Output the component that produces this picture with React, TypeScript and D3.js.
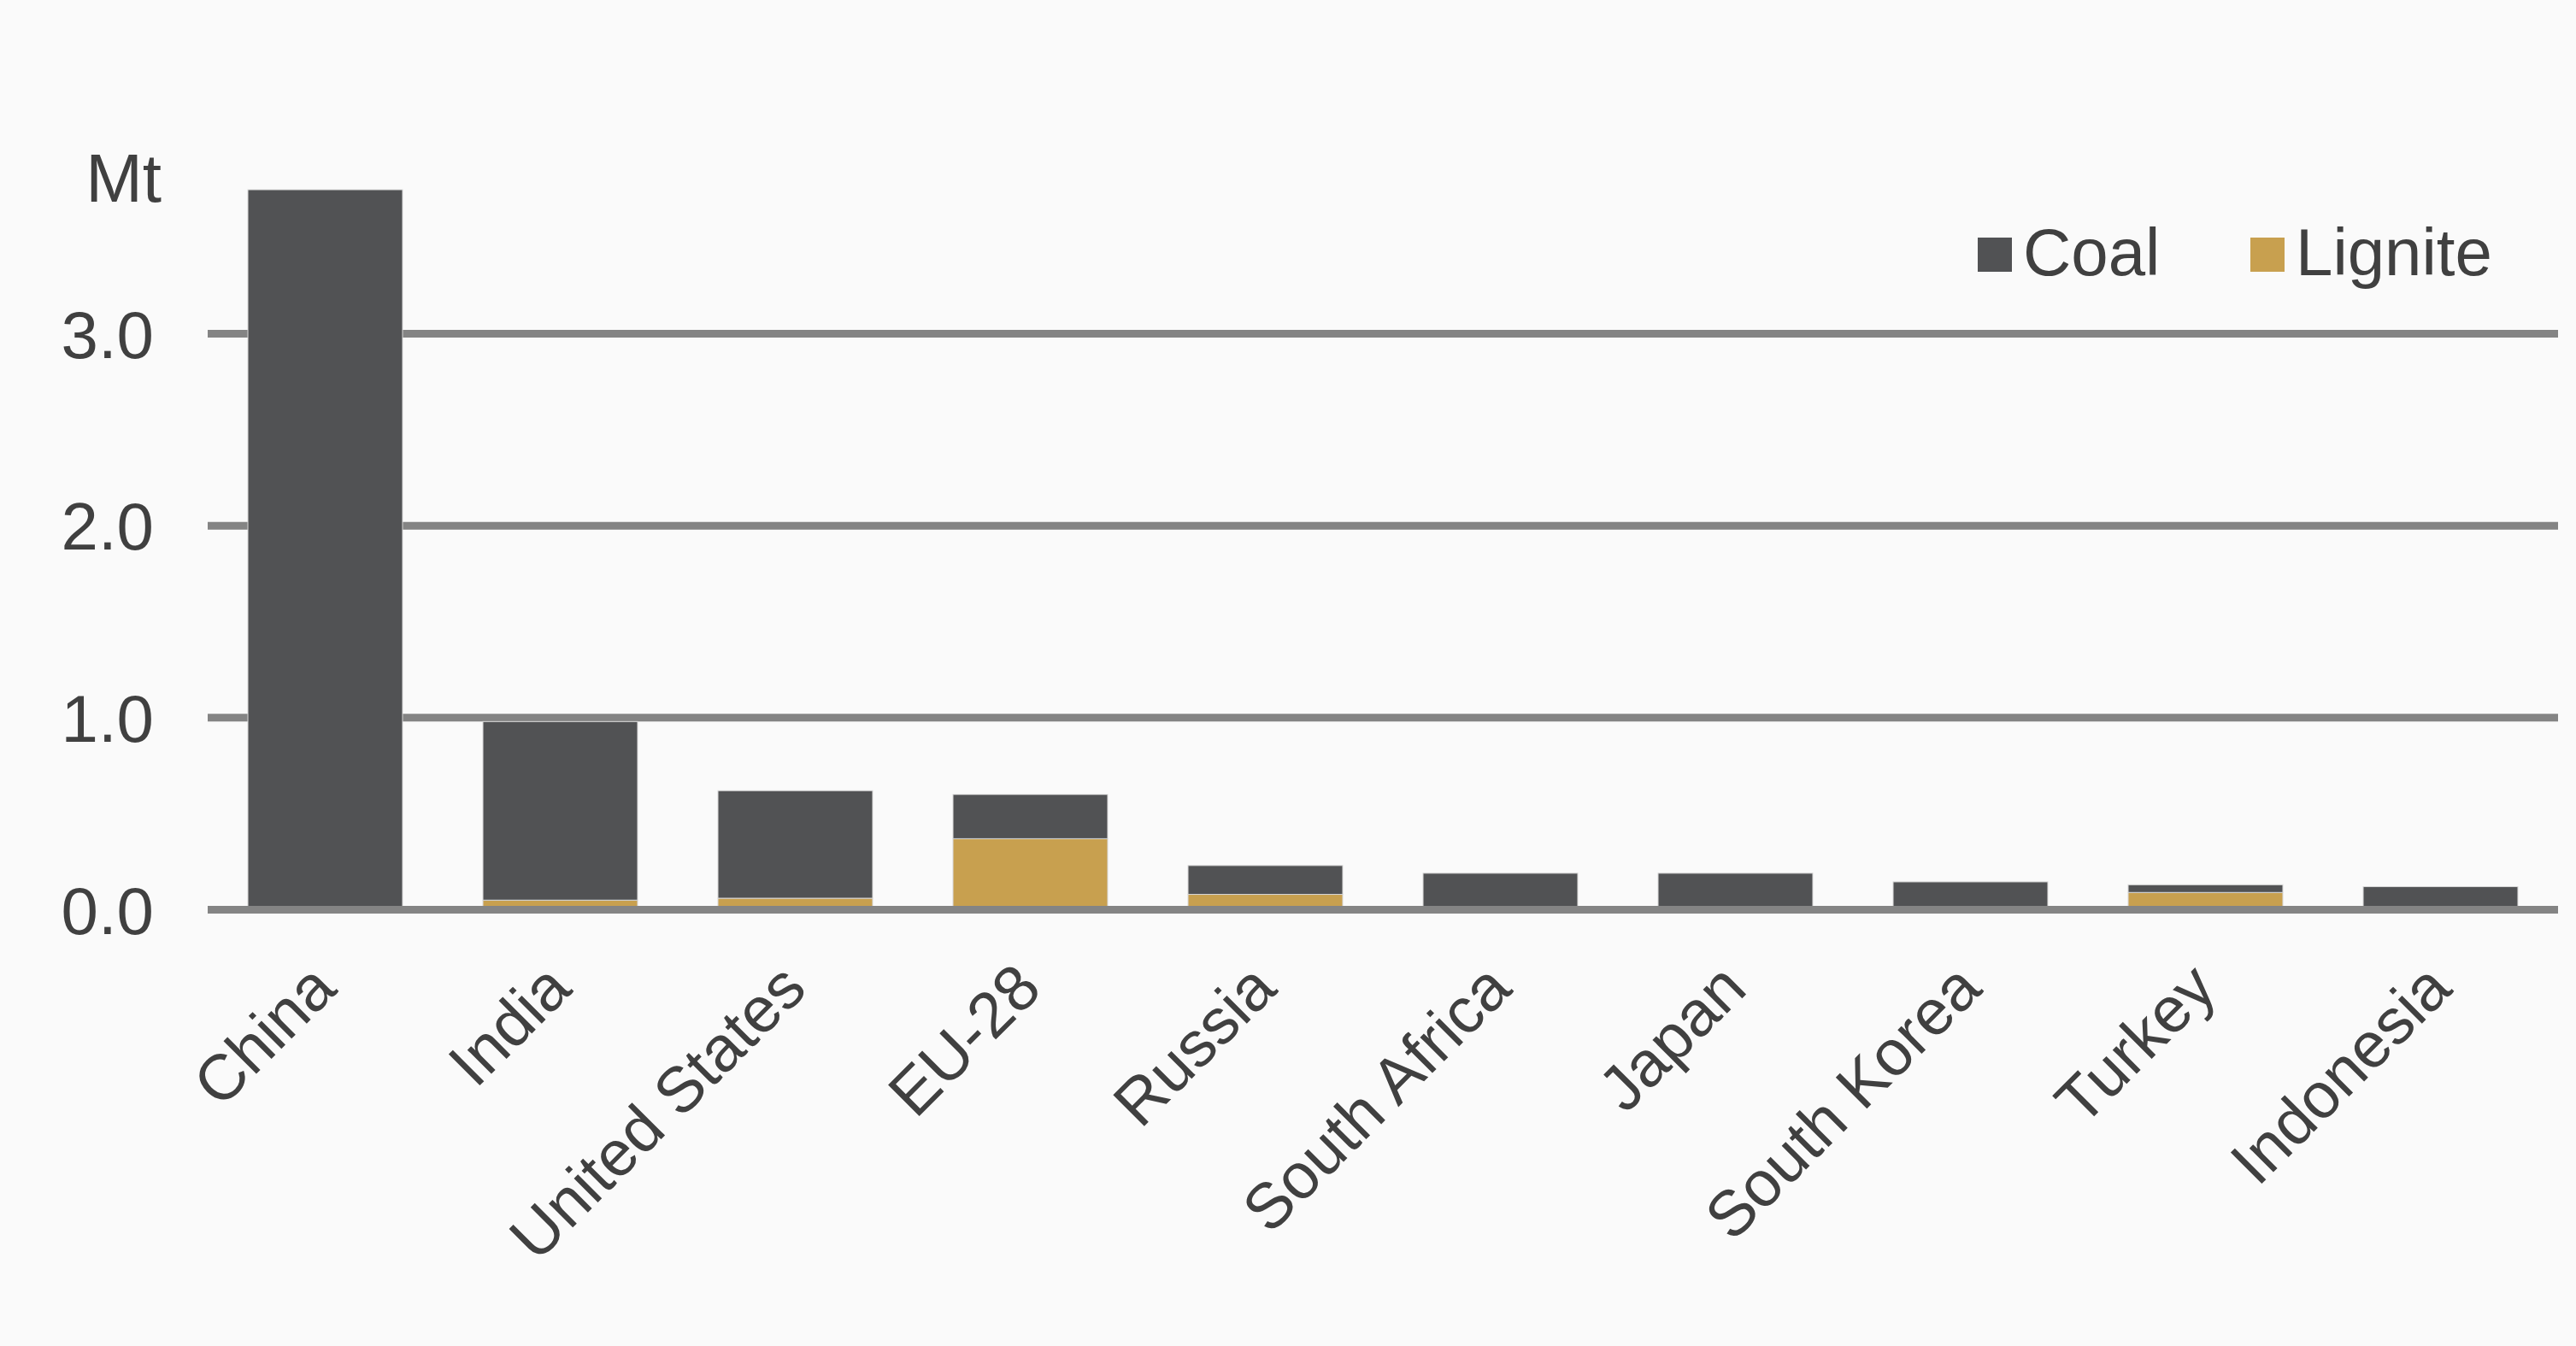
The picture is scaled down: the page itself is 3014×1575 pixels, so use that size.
import * as d3 from "d3";
import { FC } from "react";

const CATEGORIES: string[] = [
  "China",
  "India",
  "United States",
  "EU-28",
  "Russia",
  "South Africa",
  "Japan",
  "South Korea",
  "Turkey",
  "Indonesia",
];
const LIGNITE: number[] = [0, 0.05, 0.06, 0.37, 0.08, 0, 0, 0, 0.09, 0];
const COAL: number[] = [3.75, 0.93, 0.56, 0.23, 0.15, 0.19, 0.19, 0.145, 0.04, 0.12];
const Y_TICKS: number[] = [0, 1, 2, 3];
const SERIES: string[] = ["Lignite", "Coal"];
const LEGEND: string[] = ["Coal", "Lignite"];

const WIDTH = 3014;
const HEIGHT = 1575;
const FONT = "'Liberation Sans', Arial, sans-serif";
const TEXT = "#404040";
const GRID = "#848484";
const COLORS: Record<string, string> = { Coal: "#515254", Lignite: "#c8a04f" };

const App: FC = () => {
  const x = d3
    .scaleBand<string>()
    .domain(CATEGORIES)
    .range([243, 2993])
    .paddingInner(0.342)
    .paddingOuter(0.171);
  const y = d3.scaleLinear().domain([0, 3]).range([1064.5, 390.5]);

  const rows = CATEGORIES.map((c, i) => ({
    name: c,
    Lignite: LIGNITE[i],
    Coal: COAL[i],
  }));
  const stacked = d3.stack<any>().keys(SERIES)(rows);

  const legendX = [2314, 2633];

  return (
    <svg
      width={WIDTH}
      height={HEIGHT}
      style={{ position: "absolute", left: 0, top: 0, background: "#fafafa" }}
      fontFamily={FONT}
    >
      <rect width={WIDTH} height={HEIGHT} fill="#fafafa" />

      {/* gridlines behind the bars */}
      {Y_TICKS.filter((t) => t > 0).map((t) => (
        <line
          key={t}
          x1={243}
          x2={2993}
          y1={y(t)}
          y2={y(t)}
          stroke={GRID}
          strokeWidth={9}
        />
      ))}

      {stacked.map((s) => (
        <g key={s.key} fill={COLORS[s.key]}>
          {s.map((d, i) =>
            d[1] - d[0] > 0 ? (
              <rect
                key={i}
                x={x(CATEGORIES[i])}
                width={x.bandwidth()}
                y={y(d[1])}
                height={y(d[0]) - y(d[1])}
                stroke="#d8d8d8"
                strokeWidth={1}
              />
            ) : null
          )}
        </g>
      ))}

      {/* zero line on top */}
      <line
        x1={243}
        x2={2993}
        y1={y(0)}
        y2={y(0)}
        stroke={GRID}
        strokeWidth={9}
      />

      {Y_TICKS.map((t) => (
        <text
          key={t}
          x={180}
          y={y(t) + 28}
          textAnchor="end"
          fontSize={78}
          fill={TEXT}
        >
          {d3.format(".1f")(t)}
        </text>
      ))}
      <text x={189} y={236} textAnchor="end" fontSize={80} fill={TEXT}>
        Mt
      </text>

      {CATEGORIES.map((c) => (
        <text
          key={c}
          transform={`translate(${(x(c) ?? 0) + x.bandwidth() / 2 + 16}, 1160) rotate(-45)`}
          textAnchor="end"
          fontSize={75}
          fill={TEXT}
        >
          {c}
        </text>
      ))}

      {LEGEND.map((k, i) => (
        <g key={k}>
          <rect x={legendX[i]} y={278} width={40} height={40} fill={COLORS[k]} />
          <text x={legendX[i] + 53} y={322} fontSize={78} fill={TEXT}>
            {k}
          </text>
        </g>
      ))}
    </svg>
  );
};

export default App;
